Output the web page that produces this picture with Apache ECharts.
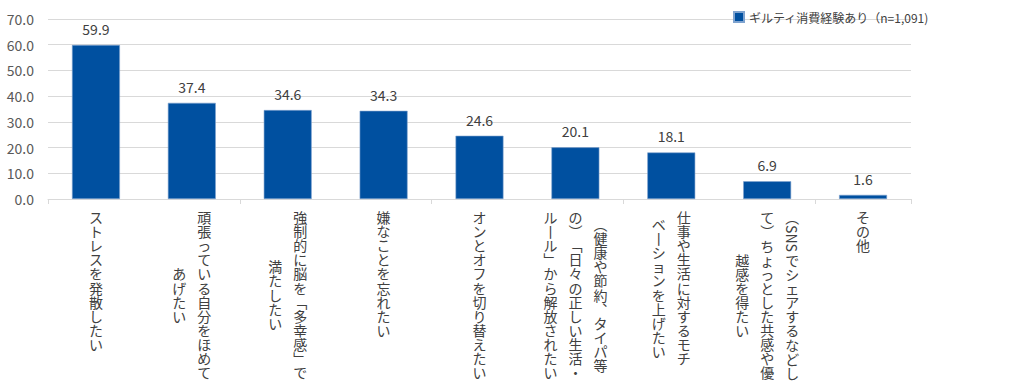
<!DOCTYPE html>
<html><head><meta charset="utf-8">
<script src="https://cdn.jsdelivr.net/npm/echarts@6/dist/echarts.min.js"></script>
<style>html,body{margin:0;padding:0;background:#fff}#c{width:1024px;height:388px}</style>
</head><body><div id="c"></div>
<script>
// ---- data ----
const categories = [
  'ストレスを発散したい',
  '頑張っている自分をほめて\nあげたい',
  '強制的に脳を「多幸感」で\n満たしたい',
  '嫌なことを忘れたい',
  'オンとオフを切り替えたい',
  '（健康や節約、タイパ等\nの）「日々の正しい生活・\nルール」から解放されたい',
  '仕事や生活に対するモチ\nベーションを上げたい',
  '（SNSでシェアするなどし\nて）ちょっとした共感や優\n越感を得たい',
  'その他'
];
const values = [59.9, 37.4, 34.6, 34.3, 24.6, 20.1, 18.1, 6.9, 1.6];
const seriesName = 'ギルティ消費経験あり（n=1,091)';
const yMin = 0, yMax = 70, yInterval = 10;

// ---- vertical label rendering helpers ----
const FONT_FAMILY = '"Noto Sans CJK JP", "Noto Sans", sans-serif';
const FS = 14, PITCH = 14.1, COLGAP = 25, TOPPAD = 11;
const TEXT_COLOR = '#404040';
const VMAP = {'「':'﹁','」':'﹂','（':'︵','）':'︶','(':'︵',')':'︶','、':'︑','ー':'丨'};
const mctx = document.createElement('canvas').getContext('2d');
mctx.font = FS + 'px ' + FONT_FAMILY;

// split one column into segments: upright runs (one char per line) and rotated Latin runs
function segments(col) {
  const out = []; let i = 0; let cur = null;
  while (i < col.length) {
    const ch = col[i];
    if (/[A-Za-z0-9]/.test(ch)) {
      let j = i; while (j < col.length && /[A-Za-z0-9]/.test(col[j])) j++;
      const s = col.slice(i, j);
      if (cur) { out.push(cur); cur = null; }
      out.push({ rot: true, t: s, h: mctx.measureText(s).width + 2 });
      i = j;
    } else {
      if (!cur) cur = { rot: false, chars: [] };
      cur.chars.push(VMAP[ch] || ch);
      i++;
    }
  }
  if (cur) out.push(cur);
  out.forEach(s => { if (!s.rot) { s.t = s.chars.join('\n'); s.h = s.chars.length * PITCH; } });
  return out;
}

const chart = echarts.init(document.getElementById('c'), null, { renderer: 'svg' });
chart.setOption({
  animation: false,
  textStyle: { fontFamily: FONT_FAMILY },
  legend: {
    data: [seriesName], left: 728, top: 6, icon: 'rect', itemWidth: 10, itemHeight: 10,
    textStyle: { fontSize: 12, color: TEXT_COLOR, fontFamily: FONT_FAMILY }
  },
  grid: { left: 48, right: 113, top: 19, bottom: 189 },
  xAxis: {
    type: 'category', data: categories, boundaryGap: true,
    axisLine: { lineStyle: { color: '#D9D9D9' } },
    axisTick: { show: true, length: 5, lineStyle: { color: '#D9D9D9' } },
    axisLabel: { show: false }
  },
  yAxis: {
    type: 'value', min: yMin, max: yMax, interval: yInterval,
    axisLine: { show: false }, axisTick: { show: false },
    splitLine: { lineStyle: { color: '#D9D9D9' } },
    axisLabel: { fontSize: 14, color: '#595959', margin: 14, fontFamily: FONT_FAMILY,
      formatter: v => v.toFixed(1) }
  },
  series: [
    {
      name: seriesName, type: 'bar', data: values, barWidth: '50%',
      itemStyle: { color: '#0050A0', borderColor: '#7FA3CF', borderWidth: 0.6 },
      label: { show: true, position: 'top', distance: 9, fontSize: 14, color: TEXT_COLOR,
        fontFamily: FONT_FAMILY, formatter: p => p.value.toFixed(1) }
    },
    {
      name: 'labels', type: 'custom', silent: true, clip: false, z: 5,
      data: categories.map((c, i) => [i, 0]),
      encode: { x: 0, y: 1 },
      renderItem: function (params, api) {
        const idx = api.value(0);
        const p = api.coord([idx, 0]);
        const cols = categories[idx].split('\n');
        const segs = cols.map(segments);
        const heights = segs.map(s => s.reduce((a, b) => a + b.h, 0));
        const maxH = Math.max.apply(null, heights);
        const n = cols.length;
        const children = [];
        segs.forEach((colSegs, k) => {
          const cx = p[0] + ((n - 1) / 2 - k) * COLGAP;
          let y = p[1] + TOPPAD + (maxH - heights[k]) / 2;
          colSegs.forEach(sg => {
            if (sg.rot) {
              children.push({
                type: 'text', x: cx, y: y + sg.h / 2, rotation: -Math.PI / 2,
                style: { text: sg.t, x: 0, y: 0, fill: TEXT_COLOR, font: FS + 'px ' + FONT_FAMILY,
                  align: 'center', verticalAlign: 'middle', lineHeight: FS }
              });
            } else {
              children.push({
                type: 'text', x: cx, y: y,
                style: { text: sg.t, x: 0, y: 0, fill: TEXT_COLOR, font: FS + 'px ' + FONT_FAMILY,
                  align: 'center', verticalAlign: 'top', lineHeight: PITCH }
              });
            }
            y += sg.h;
          });
        });
        return { type: 'group', children: children };
      }
    }
  ]
});
</script>
</body></html>
